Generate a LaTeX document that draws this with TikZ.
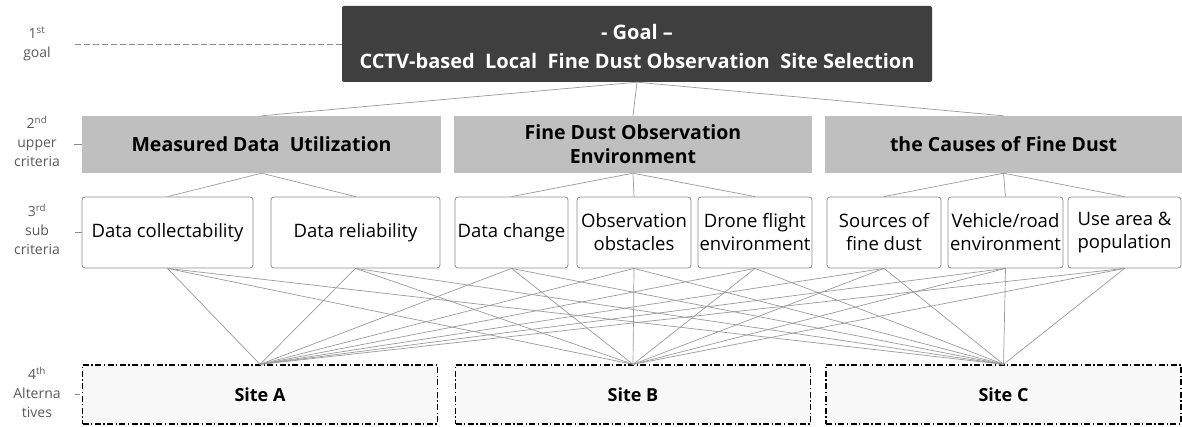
\documentclass[tikz,border=0pt]{standalone}
\usepackage{fontspec}
\setmainfont{Open Sans}
\definecolor{goalgray}{HTML}{3F3F3F}
\definecolor{uppergray}{HTML}{BFBFBF}
\definecolor{boxline}{HTML}{8C8C8C}
\definecolor{linkgray}{HTML}{9A9A9A}
\definecolor{lbl}{HTML}{595959}
\definecolor{sitefill}{HTML}{F8F8F8}
\begin{document}
\begin{tikzpicture}[x=1pt,y=-1pt,
  lvl/.style={text=lbl,font=\fontsize{14}{19}\selectfont,align=center,inner sep=0},
  goalbox/.style={fill=goalgray,rounded corners=2pt,text=white,align=center,inner sep=0,
    font=\bfseries\fontsize{20}{29}\selectfont},
  upperbox/.style={fill=uppergray,align=center,inner sep=0,
    font=\bfseries\fontsize{19.5}{24}\selectfont},
  subbox/.style={draw=boxline,fill=white,rounded corners=3pt,line width=0.8pt,align=center,
    inner sep=0,minimum height=71pt,font=\fontsize{18.5}{23}\selectfont},
  sitebox/.style={draw=black,fill=sitefill,line width=1.3pt,inner sep=0,minimum height=59pt,
    minimum width=355pt,dash pattern=on 6pt off 2.5pt on 1.3pt off 2.5pt,
    font=\bfseries\fontsize{18}{22}\selectfont},
  link/.style={draw=linkgray,line width=0.7pt},
  tick/.style={draw=boxline,line width=0.7pt}]
\useasboundingbox (0,0) rectangle (1182,427);

% level labels
\node[lvl] (l1) at (37,44) {1\textsuperscript{st}\\goal};
\node[lvl] (l2) at (37,141) {2\textsuperscript{nd}\\upper\\criteria};
\node[lvl] (l3) at (37,229) {3\textsuperscript{rd}\\sub\\criteria};
\node[lvl] (l4) at (37,392) {4\textsuperscript{th}\\Alterna\\tives};

% goal
\node[goalbox,minimum width=590pt,minimum height=76pt] (goal) at (637,44) {};
\node[text=white,font=\bfseries\fontsize{20}{29}\selectfont,align=center,inner sep=0]
  (goaltext) at (637,47)
  {- Goal --\\CCTV-based\ \ Local\ \ Fine Dust Observation\ \ Site Selection};

% upper criteria
\node[upperbox,minimum width=359pt,minimum height=57pt] (u1) at (261.5,144.5) {Measured Data\ \ Utilization};
\node[upperbox,minimum width=358pt,minimum height=57pt] (u2) at (633,144.5) {Fine Dust Observation\\Environment};
\node[upperbox,minimum width=357pt,minimum height=57pt] (u3) at (1003.5,144.5) {the Causes of Fine Dust};

% sub criteria
\node[subbox,minimum width=171pt] (s1) at (167.5,232.5) {Data collectability};
\node[subbox,minimum width=169pt] (s2) at (355.5,232.5) {Data reliability};
\node[subbox,minimum width=113pt] (s3) at (511.5,232.5) {Data change};
\node[subbox,minimum width=114pt] (s4) at (634,232.5) {Observation\\obstacles};
\node[subbox,minimum width=114pt] (s5) at (755,232.5) {Drone flight\\environment};
\node[subbox,minimum width=114pt] (s6) at (884,232.5) {Sources of\\fine dust};
\node[subbox,minimum width=115pt] (s7) at (1005.5,232.5) {Vehicle/road\\environment};
\node[subbox,minimum width=113pt] (s8) at (1124.5,232.5) {Use area \&\\population};

% alternatives
\node[sitebox] (a) at (260,394.5) {Site A};
\node[sitebox] (b) at (633,394.5) {Site B};
\node[sitebox] (c) at (1003.5,394.5) {Site C};

% level markers
\coordinate (d1) at (75,44);
\draw[draw=boxline,line width=0.8pt,dash pattern=on 6pt off 3pt] (d1) -- (goal.west);
\coordinate (t2) at (74,144.5);
\coordinate (t3) at (75,232.5);
\coordinate (t4) at (75,394.5);
\draw[tick] (t2) -- (u1.west);
\draw[tick] (t3) -- (s1.west);
\draw[tick] (t4) -- ++(5,0);

% hierarchy links
\foreach \u in {u1,u2,u3} \draw[link] (goal.south) -- (\u.north);
\foreach \s in {s1,s2} \draw[link] (u1.south) -- (\s.north);
\foreach \s in {s3,s4,s5} \draw[link] (u2.south) -- (\s.north);
\foreach \s in {s6,s7,s8} \draw[link] (u3.south) -- (\s.north);
\foreach \s in {s1,s2,s3,s4,s5,s6,s7,s8}
  \foreach \t in {a,b,c}
    \draw[link] (\s.south) -- (\t.north);
\end{tikzpicture}
\end{document}
